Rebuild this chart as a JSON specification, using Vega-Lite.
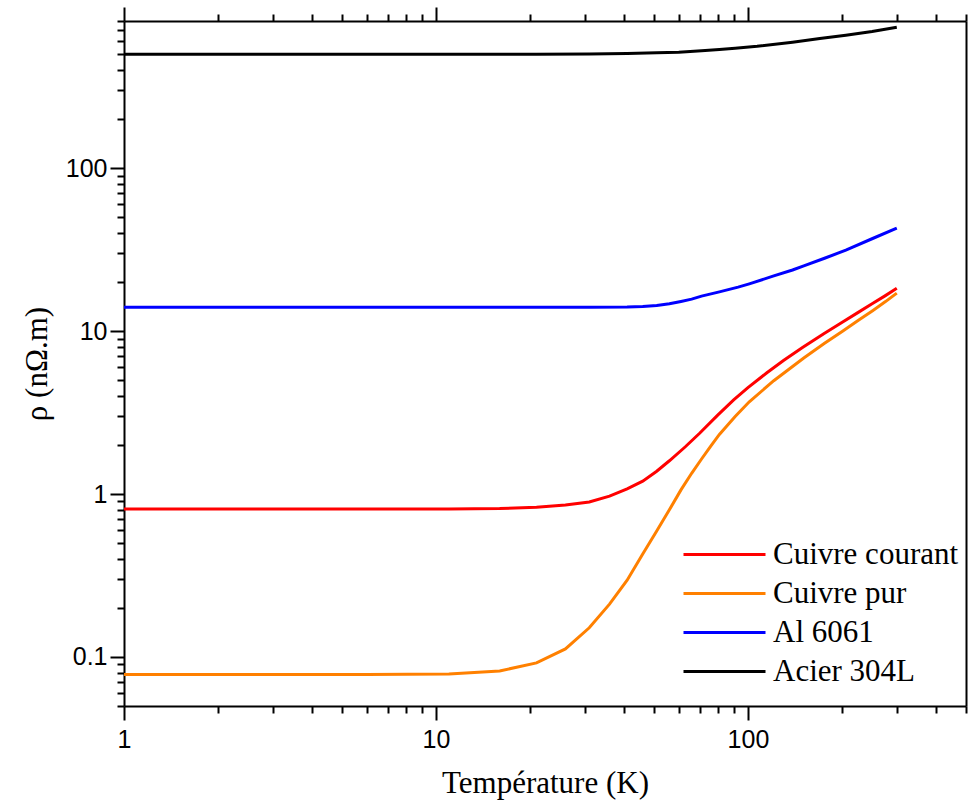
{
  "$schema": "https://vega.github.io/schema/vega-lite/v6.json",
  "width": 842,
  "height": 685,
  "autosize": {"type": "none"},
  "padding": {"left": 124, "top": 21, "right": 9, "bottom": 98},
  "background": "white",
  "config": {
    "view": {"stroke": null},
    "axis": {
      "domainColor": "black", "domainWidth": 2, "tickColor": "black", "tickWidth": 2,
      "labelFont": "Liberation Sans", "labelFontSize": 25, "labelColor": "black",
      "titleFont": "Liberation Serif", "titleFontSize": 31, "titleFontWeight": "normal", "titleColor": "black",
      "grid": false
    },
    "legend": {"labelFont": "Liberation Serif", "labelFontSize": 31, "labelColor": "black", "labelLimit": 0}
  },
  "data": {"values": [
    {"T": 1, "rho": 0.81, "s": "Cuivre courant"},
    {"T": 6, "rho": 0.81, "s": "Cuivre courant"},
    {"T": 11, "rho": 0.81, "s": "Cuivre courant"},
    {"T": 16, "rho": 0.815, "s": "Cuivre courant"},
    {"T": 21, "rho": 0.83, "s": "Cuivre courant"},
    {"T": 26, "rho": 0.857, "s": "Cuivre courant"},
    {"T": 31, "rho": 0.894, "s": "Cuivre courant"},
    {"T": 36, "rho": 0.97, "s": "Cuivre courant"},
    {"T": 41, "rho": 1.075, "s": "Cuivre courant"},
    {"T": 46, "rho": 1.2, "s": "Cuivre courant"},
    {"T": 51, "rho": 1.38, "s": "Cuivre courant"},
    {"T": 56, "rho": 1.6, "s": "Cuivre courant"},
    {"T": 63, "rho": 1.95, "s": "Cuivre courant"},
    {"T": 70, "rho": 2.36, "s": "Cuivre courant"},
    {"T": 80, "rho": 3.05, "s": "Cuivre courant"},
    {"T": 90, "rho": 3.78, "s": "Cuivre courant"},
    {"T": 100, "rho": 4.5, "s": "Cuivre courant"},
    {"T": 115, "rho": 5.55, "s": "Cuivre courant"},
    {"T": 130, "rho": 6.6, "s": "Cuivre courant"},
    {"T": 150, "rho": 7.95, "s": "Cuivre courant"},
    {"T": 175, "rho": 9.64, "s": "Cuivre courant"},
    {"T": 200, "rho": 11.3, "s": "Cuivre courant"},
    {"T": 225, "rho": 12.98, "s": "Cuivre courant"},
    {"T": 250, "rho": 14.7, "s": "Cuivre courant"},
    {"T": 275, "rho": 16.45, "s": "Cuivre courant"},
    {"T": 300, "rho": 18.3, "s": "Cuivre courant"},
    {"T": 1, "rho": 0.078, "s": "Cuivre pur"},
    {"T": 6, "rho": 0.078, "s": "Cuivre pur"},
    {"T": 11, "rho": 0.0785, "s": "Cuivre pur"},
    {"T": 16, "rho": 0.082, "s": "Cuivre pur"},
    {"T": 21, "rho": 0.092, "s": "Cuivre pur"},
    {"T": 26, "rho": 0.112, "s": "Cuivre pur"},
    {"T": 31, "rho": 0.151, "s": "Cuivre pur"},
    {"T": 36, "rho": 0.211, "s": "Cuivre pur"},
    {"T": 41, "rho": 0.296, "s": "Cuivre pur"},
    {"T": 46, "rho": 0.428, "s": "Cuivre pur"},
    {"T": 51, "rho": 0.593, "s": "Cuivre pur"},
    {"T": 56, "rho": 0.8, "s": "Cuivre pur"},
    {"T": 61, "rho": 1.06, "s": "Cuivre pur"},
    {"T": 66, "rho": 1.34, "s": "Cuivre pur"},
    {"T": 71, "rho": 1.64, "s": "Cuivre pur"},
    {"T": 76, "rho": 1.97, "s": "Cuivre pur"},
    {"T": 81, "rho": 2.32, "s": "Cuivre pur"},
    {"T": 91, "rho": 2.99, "s": "Cuivre pur"},
    {"T": 101, "rho": 3.68, "s": "Cuivre pur"},
    {"T": 121, "rho": 4.96, "s": "Cuivre pur"},
    {"T": 151, "rho": 6.84, "s": "Cuivre pur"},
    {"T": 176, "rho": 8.41, "s": "Cuivre pur"},
    {"T": 201, "rho": 9.99, "s": "Cuivre pur"},
    {"T": 226, "rho": 11.64, "s": "Cuivre pur"},
    {"T": 251, "rho": 13.34, "s": "Cuivre pur"},
    {"T": 276, "rho": 15.17, "s": "Cuivre pur"},
    {"T": 300, "rho": 17.1, "s": "Cuivre pur"},
    {"T": 1, "rho": 14.0, "s": "Al 6061"},
    {"T": 11, "rho": 14.0, "s": "Al 6061"},
    {"T": 21, "rho": 14.0, "s": "Al 6061"},
    {"T": 31, "rho": 14.0, "s": "Al 6061"},
    {"T": 41, "rho": 14.05, "s": "Al 6061"},
    {"T": 46, "rho": 14.15, "s": "Al 6061"},
    {"T": 51, "rho": 14.35, "s": "Al 6061"},
    {"T": 56, "rho": 14.7, "s": "Al 6061"},
    {"T": 61, "rho": 15.2, "s": "Al 6061"},
    {"T": 66, "rho": 15.7, "s": "Al 6061"},
    {"T": 71, "rho": 16.4, "s": "Al 6061"},
    {"T": 81, "rho": 17.4, "s": "Al 6061"},
    {"T": 93, "rho": 18.6, "s": "Al 6061"},
    {"T": 101, "rho": 19.5, "s": "Al 6061"},
    {"T": 121, "rho": 21.8, "s": "Al 6061"},
    {"T": 139, "rho": 23.7, "s": "Al 6061"},
    {"T": 151, "rho": 25.1, "s": "Al 6061"},
    {"T": 176, "rho": 28.0, "s": "Al 6061"},
    {"T": 206, "rho": 31.4, "s": "Al 6061"},
    {"T": 251, "rho": 37.0, "s": "Al 6061"},
    {"T": 300, "rho": 42.9, "s": "Al 6061"},
    {"T": 1, "rho": 500, "s": "Acier 304L"},
    {"T": 11, "rho": 500, "s": "Acier 304L"},
    {"T": 21, "rho": 500, "s": "Acier 304L"},
    {"T": 31, "rho": 502, "s": "Acier 304L"},
    {"T": 41, "rho": 505, "s": "Acier 304L"},
    {"T": 51, "rho": 510, "s": "Acier 304L"},
    {"T": 60, "rho": 515, "s": "Acier 304L"},
    {"T": 71, "rho": 525, "s": "Acier 304L"},
    {"T": 81, "rho": 535, "s": "Acier 304L"},
    {"T": 91, "rho": 545, "s": "Acier 304L"},
    {"T": 107, "rho": 560, "s": "Acier 304L"},
    {"T": 139, "rho": 593, "s": "Acier 304L"},
    {"T": 170, "rho": 625, "s": "Acier 304L"},
    {"T": 206, "rho": 655, "s": "Acier 304L"},
    {"T": 250, "rho": 690, "s": "Acier 304L"},
    {"T": 300, "rho": 733, "s": "Acier 304L"}
  ]},
  "layer": [
    {
      "mark": {"type": "line", "strokeWidth": 3},
      "encoding": {
        "x": {
          "field": "T", "type": "quantitative",
          "scale": {"type": "log", "domain": [1, 500], "nice": false},
          "axis": {
            "orient": "bottom", "title": "Température (K)", "titlePadding": 16,
            "values": [1,2,3,4,5,6,7,8,9,10,20,30,40,50,60,70,80,90,100,200,300,400,500],
            "format": "~g",
            "labelExpr": "abs(log(datum.value)/LN10 - round(log(datum.value)/LN10)) < 0.000001 ? datum.label : ''",
            "tickSize": {"condition": {"test": "abs(log(datum.value)/LN10 - round(log(datum.value)/LN10)) < 0.000001", "value": 14}, "value": 7},
            "labelPadding": 7, "labelFlush": false, "labelOverlap": false
          }
        },
        "y": {
          "field": "rho", "type": "quantitative",
          "scale": {"type": "log", "domain": [0.05, 800], "nice": false},
          "axis": {
            "orient": "left", "title": "ρ (nΩ.m)", "titlePadding": 12,
            "values": [0.05,0.06,0.07,0.08,0.09,0.1,0.2,0.3,0.4,0.5,0.6,0.7,0.8,0.9,1,2,3,4,5,6,7,8,9,10,20,30,40,50,60,70,80,90,100,200,300,400,500,600,700,800],
            "format": "~g",
            "labelExpr": "abs(log(datum.value)/LN10 - round(log(datum.value)/LN10)) < 0.000001 ? datum.label : ''",
            "tickSize": {"condition": {"test": "abs(log(datum.value)/LN10 - round(log(datum.value)/LN10)) < 0.000001", "value": 14}, "value": 7},
            "labelPadding": 3, "labelFlush": false, "labelOverlap": false
          }
        },
        "color": {
          "field": "s", "type": "nominal",
          "scale": {"domain": ["Cuivre courant", "Cuivre pur", "Al 6061", "Acier 304L"], "range": ["#ff0000", "#ff8000", "#0000ff", "#000000"]},
          "sort": null,
          "legend": {
            "title": null, "orient": "none", "legendX": 558, "legendY": 518,
            "symbolType": "stroke", "symbolSize": 6724, "symbolStrokeWidth": 3,
            "clipHeight": 31, "rowPadding": 7, "labelOffset": 6, "labelLimit": 0
          }
        }
      }
    },
    {
      "mark": {"type": "point", "opacity": 0},
      "encoding": {
        "x": {
          "field": "T", "type": "quantitative",
          "axis": {
            "orient": "top", "title": null, "labels": false,
            "values": [1,2,3,4,5,6,7,8,9,10,20,30,40,50,60,70,80,90,100,200,300,400,500],
            "tickSize": {"condition": {"test": "abs(log(datum.value)/LN10 - round(log(datum.value)/LN10)) < 0.000001", "value": 14}, "value": 7}
          }
        },
        "y": {
          "field": "rho", "type": "quantitative",
          "axis": {"orient": "right", "title": null, "labels": false, "ticks": false}
        }
      }
    }
  ],
  "resolve": {"axis": {"x": "independent", "y": "independent"}}
}
